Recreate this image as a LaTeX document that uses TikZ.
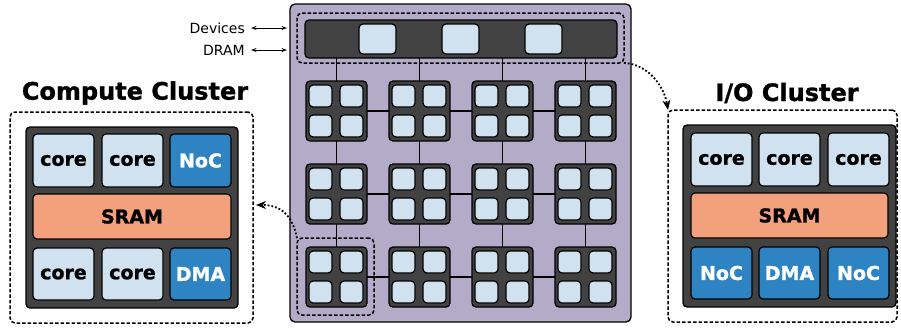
\documentclass[tikz,border=0pt]{standalone}
\usepackage{fontspec}
\setmainfont{DejaVu Sans}[BoldFeatures={FakeBold=1.2}]
\usetikzlibrary{arrows.meta}
\definecolor{chipbg}{RGB}{179,171,200}
\definecolor{darkbg}{RGB}{66,66,66}
\definecolor{cellblue}{RGB}{208,226,240}
\definecolor{nocblue}{RGB}{46,132,194}
\definecolor{sramc}{RGB}{242,161,124}
\begin{document}
\begin{tikzpicture}[x=1pt,y=-1pt,
  base/.style={anchor=north west, inner sep=0pt, outer sep=0pt},
  dashbox/.style={base, draw=black, line width=1.5pt, dash pattern=on 3.5pt off 2pt, rounded corners=5pt},
  darkbox/.style={base, draw=black, fill=darkbg, line width=1.3pt, rounded corners=4pt},
  lightcell/.style={base, draw=black, fill=cellblue, line width=1.2pt, rounded corners=4pt},
  corecell/.style={lightcell, minimum width=61pt, minimum height=53pt, font=\bfseries\fontsize{19}{19}\selectfont},
  noccell/.style={base, draw=black, fill=nocblue, line width=1.2pt, rounded corners=4pt, minimum width=61pt, minimum height=53pt, text=white, font=\bfseries\fontsize{19}{19}\selectfont},
  sramcell/.style={base, draw=black, fill=sramc, line width=1.2pt, rounded corners=4pt, minimum width=198pt, minimum height=45pt, font=\bfseries\fontsize{19}{19}\selectfont},
  title/.style={font=\bfseries\fontsize{24}{24}\selectfont, inner sep=0pt},
  link/.style={draw=black, line width=1.4pt},
  dotarrow/.style={line width=1.8pt, dash pattern=on 1.8pt off 2pt, -{Stealth[length=10pt,width=8pt]}},
  lbl/.style={font=\fontsize{14}{14}\selectfont, inner sep=0pt, anchor=east},
  biarrow/.style={line width=0.9pt, {Stealth[length=5.5pt,width=4pt]}-{Stealth[length=5.5pt,width=4pt]}}
]
\useasboundingbox (0,0) rectangle (901,327);

% ---------- Compute cluster ----------
\node[title] (cctitle) at (135,93) {Compute Cluster};
\node[dashbox, minimum width=243pt, minimum height=211pt] (cc) at (10,112) {};
\node[darkbox, minimum width=212pt, minimum height=181pt] (ccd) at (26,127) {};
\node[corecell] (cc1) at (33,134) {core};
\node[corecell] (cc2) at (102,134) {core};
\node[noccell] (ccn) at (170,134) {NoC};
\node[sramcell] (ccs) at (33,194) {SRAM};
\node[corecell, minimum height=52pt] (cc3) at (33,248) {core};
\node[corecell, minimum height=52pt] (cc4) at (102,248) {core};
\node[noccell, minimum height=52pt] (ccdma) at (170,248) {DMA};

% ---------- Chip ----------
\node[base, draw=black, fill=chipbg, line width=1.3pt, rounded corners=5pt, minimum width=341pt, minimum height=318pt] (chip) at (290,4) {};
\node[darkbox, minimum width=312pt, minimum height=38pt] (bar) at (305,20) {};
\foreach \i/\x in {1/359,2/442,3/525}
  \node[lightcell, minimum width=37pt, minimum height=30pt] (io\i) at (\x,24) {};
\node[dashbox, minimum width=327pt, minimum height=50pt] (bardash) at (297,13) {};

\foreach \r/\y in {1/81,2/164,3/247}{
  \foreach \c/\x in {1/306,2/389,3/472,4/555}{
    \node[darkbox, minimum width=61pt, minimum height=60pt] (b\r\c) at (\x,\y) {};
    \node[lightcell, minimum width=23pt, minimum height=22pt] (b\r\c a) at (\x+3,\y+4) {};
    \node[lightcell, minimum width=23pt, minimum height=22pt] (b\r\c b) at (\x+34,\y+4) {};
    \node[lightcell, minimum width=23pt, minimum height=22pt] (b\r\c c) at (\x+3,\y+34) {};
    \node[lightcell, minimum width=23pt, minimum height=22pt] (b\r\c d) at (\x+34,\y+34) {};
  }
}
% links
\foreach \r in {1,2,3}{
  \draw[link] (b\r1.east) -- (b\r2.west);
  \draw[link] (b\r2.east) -- (b\r3.west);
  \draw[link] (b\r3.east) -- (b\r4.west);
}
\foreach \c in {1,2,3,4}{
  \draw[link] (bar.south -| b1\c.north) -- (b1\c.north);
  \draw[link] (b1\c.south) -- (b2\c.north);
  \draw[link] (b2\c.south) -- (b3\c.north);
}
\node[dashbox, minimum width=77pt, minimum height=77pt] (sel) at (297,238) {};

% labels
\node[lbl] (dev) at (245,28) {Devices};
\node[lbl] (dram) at (245,50) {DRAM};
\coordinate (devend) at (287,28);
\coordinate (dramend) at (287,50);
\draw[biarrow] ([xshift=6pt]dev.east) -- (devend);
\draw[biarrow] ([xshift=6pt]dram.east) -- (dramend);

% ---------- I/O cluster ----------
\node[title] (iotitle) at (787,93) {I/O Cluster};
\node[dashbox, minimum width=229pt, minimum height=212pt] (ioc) at (668,110) {};
\node[darkbox, minimum width=213pt, minimum height=182pt] (iod) at (683,125) {};
\node[corecell] (ic1) at (691,133) {core};
\node[corecell] (ic2) at (759,133) {core};
\node[corecell] (ic3) at (828,133) {core};
\node[sramcell, minimum width=197pt] (ics) at (691,193) {SRAM};
\node[noccell, minimum height=52pt] (icn1) at (691,247) {NoC};
\node[noccell, minimum height=52pt] (icdma) at (759,247) {DMA};
\node[noccell, minimum height=52pt] (icn2) at (828,247) {NoC};

% ---------- arrows ----------
\coordinate (ccin) at (256,205);
\draw[dotarrow] (sel.north west) .. controls (292,214) and (280,205) .. (ccin);
\draw[dotarrow] (bardash.south east) .. controls (648,64) and (664,86) .. (ioc.north west);
\end{tikzpicture}
\end{document}
